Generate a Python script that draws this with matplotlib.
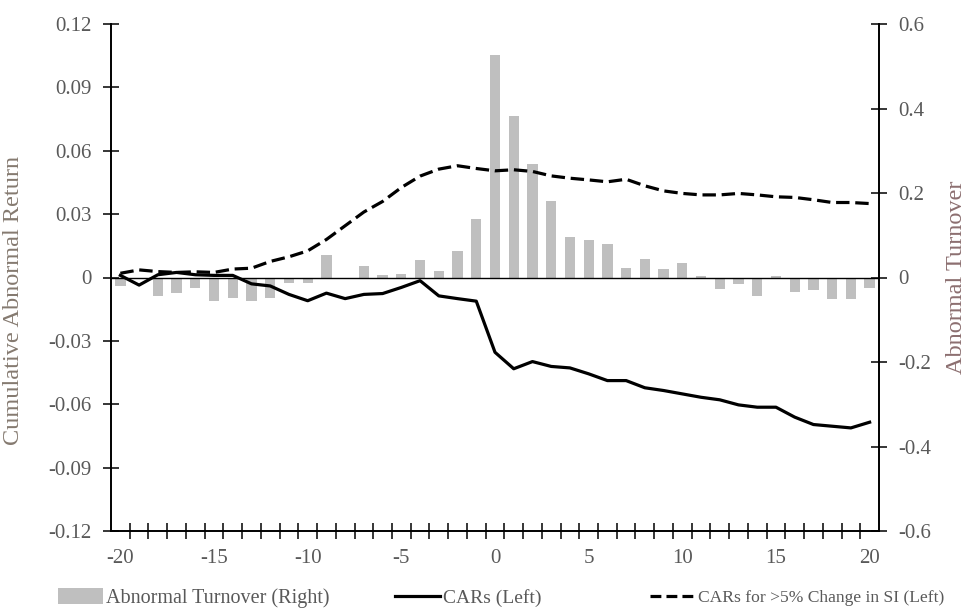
import numpy as np
import matplotlib
matplotlib.use("Agg")
import matplotlib.pyplot as plt
from matplotlib.lines import Line2D
from matplotlib.patches import Patch

plt.rcParams['font.family'] = ['Liberation Serif', 'DejaVu Serif']

# event days relative to the announcement
days = list(range(-20, 21))

# abnormal turnover (right axis)
turnover = [-0.021, -0.002, -0.043, -0.037, -0.024, -0.055, -0.049, -0.055, -0.049, -0.012,
            -0.014, 0.053, -0.004, 0.028, 0.006, 0.009, 0.041, 0.016, 0.063, 0.139,
            0.527, 0.382, 0.268, 0.181, 0.095, 0.089, 0.080, 0.022, 0.043, 0.019,
            0.034, 0.003, -0.028, -0.016, -0.043, 0.003, -0.034, -0.030, -0.051, -0.051,
            -0.025]

# cumulative abnormal returns, all events (left axis)
car_all = [0.001, -0.0036, 0.0013, 0.0024, 0.0013, 0.001, 0.001, -0.003, -0.004, -0.008,
           -0.011, -0.0074, -0.010, -0.008, -0.0076, -0.0047, -0.0015, -0.0087, -0.010, -0.0112,
           -0.0354, -0.0432, -0.0398, -0.0421, -0.0428, -0.0456, -0.0488, -0.0488, -0.0522, -0.0535,
           -0.0551, -0.0567, -0.0579, -0.0603, -0.0614, -0.0614, -0.0661, -0.0696, -0.0704, -0.0712,
           -0.0685]

# cumulative abnormal returns, >5% change in short interest (left axis)
car_si = [0.002, 0.0036, 0.0028, 0.0024, 0.0027, 0.0024, 0.004, 0.0044, 0.0076, 0.0098,
          0.0126, 0.018, 0.0245, 0.031, 0.036, 0.0426, 0.048, 0.0513, 0.0529, 0.0516,
          0.0505, 0.051, 0.0502, 0.0481, 0.047, 0.0462, 0.0453, 0.0465, 0.0434, 0.041,
          0.0398, 0.0391, 0.0391, 0.0398, 0.0391, 0.0382, 0.0379, 0.0368, 0.0355, 0.0355,
          0.035]

left_ticks = [0.12, 0.09, 0.06, 0.03, 0, -0.03, -0.06, -0.09, -0.12]
left_labels = ['0.12', '0.09', '0.06', '0.03', '0', '-0.03', '-0.06', '-0.09', '-0.12']
right_ticks = [0.6, 0.4, 0.2, 0, -0.2, -0.4, -0.6]
right_labels = ['0.6', '0.4', '0.2', '0', '-0.2', '-0.4', '-0.6']
x_ticks = [-20, -15, -10, -5, 0, 5, 10, 15, 20]
x_labels = ['-20', '-15', '-10', '-5', '0', '5', '10', '15', '20']

label_color = '#595959'
fs = 15

fig = plt.figure(figsize=(9.69, 6.09), dpi=100)
ax = fig.add_axes([111 / 969, 78 / 609, 768 / 969, 507 / 609])
ax2 = ax.twinx()

# bars sit behind the CAR lines
ax.set_zorder(ax2.get_zorder() + 1)
ax.patch.set_visible(False)

ax2.bar(days, turnover, width=0.55, color='#bfbfbf', linewidth=0)
ax.axhline(0, color='black', linewidth=1.0, zorder=1)
ax.plot(days, car_all, color='black', linewidth=2.3, solid_joinstyle='round', zorder=3)
ax.plot(days, car_si, color='black', linewidth=2.3, linestyle=(0, (4.2, 1.8)), zorder=3)

ax.set_xlim(-20.5, 20.5)
ax.set_ylim(-0.12, 0.12)
ax2.set_ylim(-0.6, 0.6)

for a in (ax, ax2):
    a.spines['top'].set_visible(False)
    for s in a.spines.values():
        s.set_linewidth(1.2)

ax.set_yticks(left_ticks)
ax.set_yticklabels(left_labels)
ax2.set_yticks(right_ticks)
ax2.set_yticklabels(right_labels)
ax.set_xticks(x_ticks)
ax.set_xticklabels(x_labels)
ax.set_xticks(np.arange(-19.5, 20.5, 1.0), minor=True)

ax.tick_params(axis='y', direction='inout', length=12, width=1.1, pad=8,
               labelsize=fs, labelcolor=label_color)
ax2.tick_params(axis='y', direction='inout', length=12, width=1.1, pad=8,
                labelsize=fs, labelcolor=label_color)
ax.tick_params(axis='x', which='major', length=0, pad=13, labelsize=fs, labelcolor=label_color)
ax.tick_params(axis='x', which='minor', direction='inout', length=12, width=1.1)
ax.tick_params(axis='y', which='minor', left=False)

fig.text(14 / 969, 0.506, 'Cumulative Abnormal Return', rotation=90, ha='center', va='center',
         fontsize=17.5, color='#857a70')
fig.text(957 / 969, 0.544, 'Abnormal Turnover', rotation=90, ha='center', va='center',
         fontsize=17.5, color='#8c6f70')

# legend entries laid out along the bottom
entries = [
    (Patch(facecolor='#bfbfbf', edgecolor='none'), 'Abnormal Turnover (Right)', 58, 14.5),
    (Line2D([], [], color='black', linewidth=2.3), 'CARs (Left)', 395, 14),
    (Line2D([], [], color='black', linewidth=2.3, linestyle=(0, (3.4, 1.6))),
     'CARs for >5% Change in SI (Left)', 650, 12.6),
]
for handle, text, xpix, size in entries:
    leg = fig.legend([handle], [text], loc='center left', bbox_to_anchor=(xpix / 969, 11 / 609),
                     frameon=False, fontsize=size, handlelength=45 / (size * 1.389),
                     handleheight=0.8, handletextpad=0.15, borderpad=0, borderaxespad=0)
    for t in leg.get_texts():
        t.set_color(label_color)

fig.savefig('out.png', dpi=100)
